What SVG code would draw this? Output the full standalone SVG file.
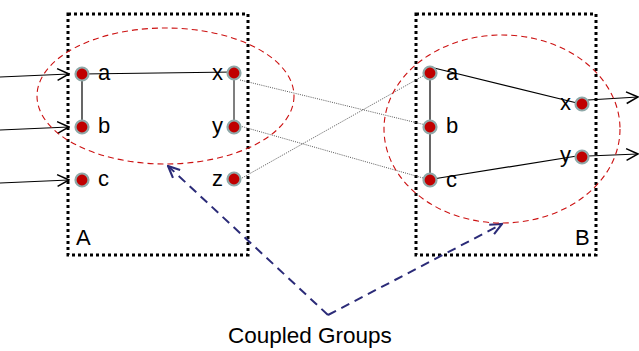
<svg xmlns="http://www.w3.org/2000/svg" width="639" height="351" viewBox="0 0 639 351">
<style>
.box{fill:none;stroke:#000;stroke-width:3;stroke-dasharray:3 3}
.grp{fill:none;stroke:#cc1111;stroke-width:1.1;stroke-dasharray:6 4}
.ln{fill:none;stroke:#000;stroke-width:1.2}
.vl{fill:none;stroke:#555;stroke-width:1.5}
.dot{fill:none;stroke:#444;stroke-width:0.9;stroke-dasharray:1 1.2}
.blue{fill:none;stroke:#2b2b78;stroke-width:2;stroke-dasharray:9 6}
.nd{fill:#c00000;stroke:#8fa9a9;stroke-width:2.2}
text{font-family:"Liberation Sans",Arial,sans-serif;font-size:22px;fill:#000}
.cap{font-size:22.5px}
</style>
<defs>
<marker id="arr" markerUnits="userSpaceOnUse" markerWidth="14" markerHeight="14" refX="11" refY="6" orient="auto" viewBox="0 0 12 12">
<path d="M1,1 L11,6 L1,11" fill="none" stroke="#000" stroke-width="1.3"/>
</marker>
<marker id="barr" markerUnits="userSpaceOnUse" markerWidth="14" markerHeight="14" refX="11" refY="6" orient="auto" viewBox="0 0 12 12">
<path d="M1,1.5 L11,6 L1,10.5" fill="none" stroke="#2b2b78" stroke-width="1.8"/>
</marker>
</defs>
<g id="groupA">
<rect class="box" x="68" y="14" width="180" height="241"/>
<text x="76" y="245">A</text>
</g>
<g id="groupB">
<rect class="box" x="416" y="14" width="180" height="241"/>
<text x="575" y="245">B</text>
</g>
<g id="connectors">
<line class="ln" x1="0" y1="77" x2="69" y2="74" marker-end="url(#arr)"/>
<line class="ln" x1="0" y1="130" x2="69" y2="127" marker-end="url(#arr)"/>
<line class="ln" x1="0" y1="183" x2="69" y2="180" marker-end="url(#arr)"/>
<line class="ln" x1="82" y1="74" x2="234" y2="72"/>
<line class="ln" x1="82" y1="74" x2="82" y2="127"/>
<line class="vl" x1="234" y1="73" x2="234" y2="127"/>
<line class="dot" x1="240" y1="80" x2="430" y2="126"/>
<line class="dot" x1="240" y1="126" x2="430" y2="180"/>
<line class="dot" x1="242" y1="178" x2="430" y2="72"/>
<line class="ln" x1="430" y1="67" x2="577" y2="103"/>
<line class="ln" x1="430" y1="73" x2="430" y2="180"/>
<line class="ln" x1="433" y1="179" x2="577" y2="156"/>
<line class="ln" x1="588" y1="100" x2="638" y2="97" marker-end="url(#arr)"/>
<line class="ln" x1="588" y1="156" x2="638" y2="154" marker-end="url(#arr)"/>
<line class="blue" x1="328" y1="315" x2="168" y2="166" marker-end="url(#barr)"/>
<line class="blue" x1="328" y1="315" x2="502" y2="224" marker-end="url(#barr)"/>
</g>
<g id="coupledA">
<ellipse class="grp" cx="165.5" cy="96" rx="128.5" ry="68"/>
</g>
<g id="coupledB">
<ellipse class="grp" cx="502" cy="129" rx="118" ry="94"/>
</g>
<g id="A_a"><circle class="nd" cx="82" cy="74" r="6.5"/><text x="98" y="80">a</text></g>
<g id="A_b"><circle class="nd" cx="82" cy="127" r="6.5"/><text x="98" y="133">b</text></g>
<g id="A_c"><circle class="nd" cx="82" cy="180" r="6.5"/><text x="98" y="186">c</text></g>
<g id="A_x"><circle class="nd" cx="234" cy="73" r="6.5"/><text x="212" y="80">x</text></g>
<g id="A_y"><circle class="nd" cx="234" cy="127" r="6.5"/><text x="212" y="133">y</text></g>
<g id="A_z"><circle class="nd" cx="234" cy="179" r="6.5"/><text x="212" y="186">z</text></g>
<g id="B_a"><circle class="nd" cx="430" cy="73" r="6.5"/><text x="446" y="80">a</text></g>
<g id="B_b"><circle class="nd" cx="430" cy="127" r="6.5"/><text x="446" y="133">b</text></g>
<g id="B_c"><circle class="nd" cx="430" cy="180" r="6.5"/><text x="446" y="187">c</text></g>
<g id="B_x"><circle class="nd" cx="582" cy="104" r="6.5"/><text x="560" y="110">x</text></g>
<g id="B_y"><circle class="nd" cx="582" cy="157" r="6.5"/><text x="560" y="162">y</text></g>
<text class="cap" x="228" y="343">Coupled Groups</text>
</svg>
